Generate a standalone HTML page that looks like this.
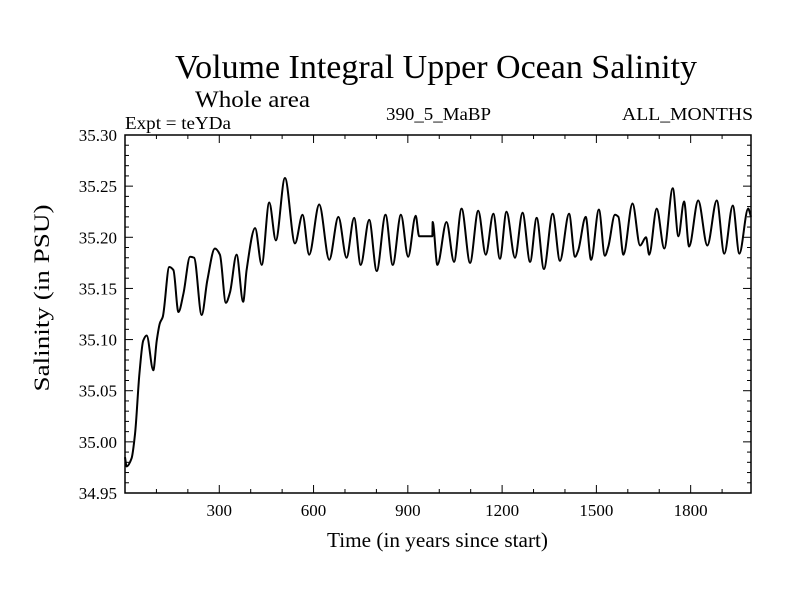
<!DOCTYPE html>
<html><head><meta charset="utf-8"><style>
body{margin:0;background:#fff;}
svg text{font-family:"Liberation Serif",serif;fill:#000;}
</style></head><body>
<svg id="chart" width="800" height="600" viewBox="0 0 800 600">
<text x="175" y="78" font-size="34" textLength="522" lengthAdjust="spacingAndGlyphs">Volume Integral Upper Ocean Salinity</text>
<text x="195" y="107" font-size="23" textLength="115" lengthAdjust="spacingAndGlyphs">Whole area</text>
<text x="125" y="129" font-size="18" textLength="106" lengthAdjust="spacingAndGlyphs">Expt = teYDa</text>
<text x="386" y="120" font-size="18" textLength="105" lengthAdjust="spacingAndGlyphs">390_5_MaBP</text>
<text x="622" y="120" font-size="18" textLength="131" lengthAdjust="spacingAndGlyphs">ALL_MONTHS</text>
<text transform="translate(49,298) rotate(-90)" font-size="22" text-anchor="middle" textLength="187" lengthAdjust="spacingAndGlyphs">Salinity (in PSU)</text>
<text x="327" y="547" font-size="21" textLength="221" lengthAdjust="spacingAndGlyphs">Time (in years since start)</text>
<g id="axes"></g>
<path id="line" fill="none" stroke="#000" stroke-width="2" stroke-linejoin="round"></path>
</svg>
<script>
const years = [0,5,21,32,46,58,69,90,101,111,120,141,154,170,186,207,220,244,262,286,302,321,334,355,376,387,414,435,459,480,509,541,565,586,618,650,679,705,729,750,777,801,829,852,878,901,925,936,978,979,994,1023,1047,1071,1098,1124,1148,1172,1193,1214,1241,1265,1289,1310,1333,1361,1384,1413,1432,1442,1466,1483,1508,1527,1538,1559,1570,1586,1615,1639,1658,1668,1692,1716,1743,1761,1779,1795,1824,1853,1883,1907,1934,1955,1983,1992];
const salinity = [34.985,34.976,34.984,35.008,35.067,35.099,35.104,35.070,35.099,35.116,35.122,35.171,35.168,35.127,35.145,35.181,35.180,35.124,35.158,35.189,35.183,35.136,35.146,35.183,35.137,35.168,35.209,35.173,35.234,35.197,35.258,35.194,35.222,35.183,35.232,35.178,35.220,35.180,35.219,35.173,35.217,35.167,35.222,35.173,35.222,35.181,35.221,35.201,35.201,35.215,35.173,35.215,35.176,35.228,35.175,35.226,35.183,35.223,35.179,35.225,35.180,35.224,35.176,35.219,35.169,35.223,35.177,35.223,35.181,35.187,35.220,35.178,35.227,35.182,35.191,35.222,35.220,35.183,35.233,35.192,35.200,35.183,35.228,35.189,35.248,35.201,35.235,35.191,35.236,35.192,35.236,35.184,35.231,35.184,35.228,35.220];
const yTicks = [34.95,35.00,35.05,35.10,35.15,35.20,35.25,35.30];
const yTickLabels = ["34.95","35.00","35.05","35.10","35.15","35.20","35.25","35.30"];
const xTicks = [300,600,900,1200,1500,1800];
const xTickLabels = ["300","600","900","1200","1500","1800"];

const L=125,R=751,T=135,B=493,X0=0,X1=1992,Y0=34.95,Y1=35.30;
const sx=v=>L+(v-X0)/(X1-X0)*(R-L);
const sy=v=>B-(v-Y0)/(Y1-Y0)*(B-T);
const NS="http://www.w3.org/2000/svg";
const ax=document.getElementById('axes');
function ln(x1,y1,x2,y2,w){const e=document.createElementNS(NS,'line');e.setAttribute('x1',x1);e.setAttribute('y1',y1);e.setAttribute('x2',x2);e.setAttribute('y2',y2);e.setAttribute('stroke','#000');e.setAttribute('stroke-width',w||1);ax.appendChild(e);return e;}
const fr=document.createElementNS(NS,'rect');
fr.setAttribute('x',L);fr.setAttribute('y',T);fr.setAttribute('width',R-L);fr.setAttribute('height',B-T);
fr.setAttribute('fill','none');fr.setAttribute('stroke','#000');fr.setAttribute('stroke-width','1.5');


ax.appendChild(fr);
for(let v=Y0;v<=Y1+1e-9;v+=0.01){const y=sy(v);const major=Math.abs(Math.round(v*100)%5)===0;const len=major?8:4;
 const t1=ln(L,y,L+len,y);
 const t2=ln(R-len,y,R,y);}
yTicks.forEach((v,i)=>{const t=document.createElementNS(NS,'text');t.setAttribute('x',L-8);t.setAttribute('y',sy(v)+6);t.setAttribute('font-size','17');t.setAttribute('text-anchor','end');t.textContent=yTickLabels[i];
 
 
 ax.appendChild(t);});
for(let v=100;v<X1;v+=100){const x=sx(v);const len=(v%300===0)?8:4;
 const t1=ln(x,B,x,B-len);
 const t2=ln(x,T,x,T+len);}
xTicks.forEach((v,i)=>{const t=document.createElementNS(NS,'text');t.setAttribute('x',sx(v));t.setAttribute('y',B+23);t.setAttribute('font-size','17');t.setAttribute('text-anchor','middle');t.textContent=xTickLabels[i];
 
 
 ax.appendChild(t);});
const px=years.map(sx),py=salinity.map(sy),n=px.length;
const d=[],m=[];
for(let i=0;i<n-1;i++)d.push((py[i+1]-py[i])/(px[i+1]-px[i]));
m[0]=d[0];m[n-1]=d[n-2];
for(let i=1;i<n-1;i++){m[i]=0;if(d[i-1]*d[i]>0){const w1=2*(px[i+1]-px[i])+(px[i]-px[i-1]),w2=(px[i+1]-px[i])+2*(px[i]-px[i-1]);m[i]=(w1+w2)/(w1/d[i-1]+w2/d[i]);}}
let p='M'+px[0]+','+py[0];
for(let i=0;i<n-1;i++){const h=(px[i+1]-px[i])/3;p+=' C'+(px[i]+h)+','+(py[i]+m[i]*h)+' '+(px[i+1]-h)+','+(py[i+1]-m[i+1]*h)+' '+px[i+1]+','+py[i+1];}
document.getElementById('line').setAttribute('d',p);
</script>
</body></html>
